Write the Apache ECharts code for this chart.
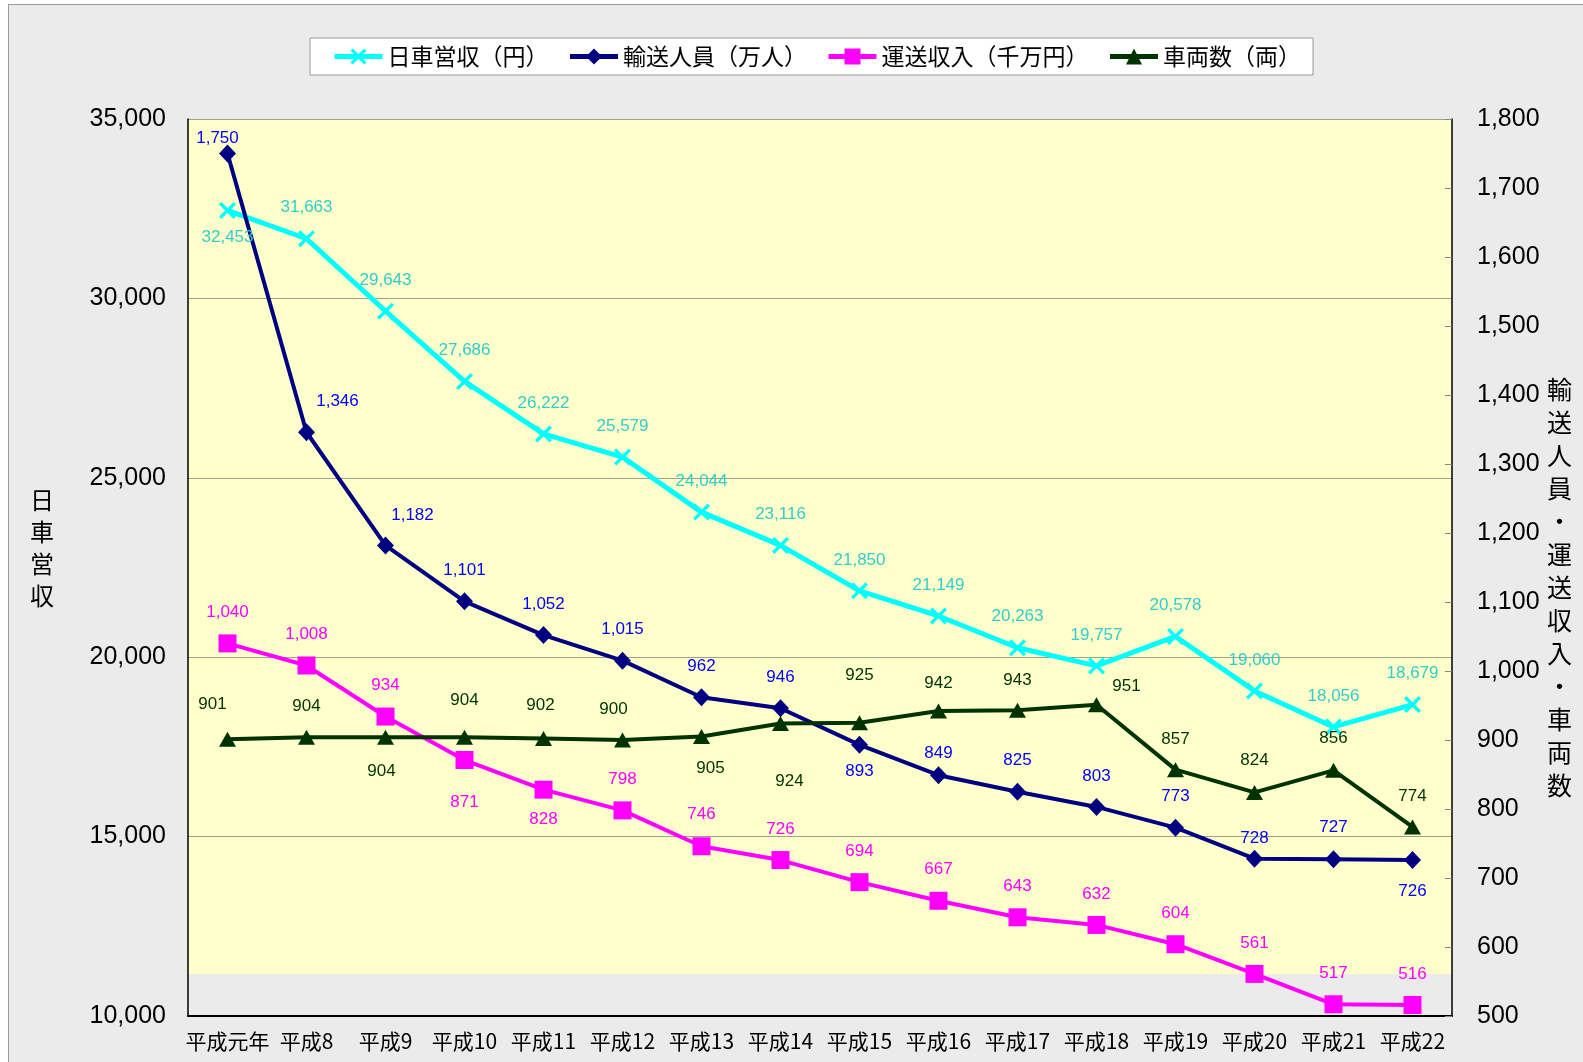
<!DOCTYPE html>
<html>
<head>
<meta charset="utf-8">
<script src="https://cdn.jsdelivr.net/npm/echarts@6/dist/echarts.min.js"></script>
<style>
  html, body { margin: 0; padding: 0; background: #ffffff; overflow: hidden; }
  #frame { position: absolute; left: 8px; top: 4px; width: 1580px; height: 1062px;
           background: #ebebeb; border: 1px solid #9a9a9a; }
  #chart { position: absolute; left: 0; top: 0; width: 1583px; height: 1062px; }
</style>
</head>
<body>
<div id="frame"></div>
<div id="chart"></div>
<script>
// ---- data ----
const categories = ['平成元年','平成8','平成9','平成10','平成11','平成12','平成13','平成14',
                    '平成15','平成16','平成17','平成18','平成19','平成20','平成21','平成22'];
const dailyRevenue   = [32453, 31663, 29643, 27686, 26222, 25579, 24044, 23116, 21850, 21149, 20263, 19757, 20578, 19060, 18056, 18679];
const passengers     = [1750, 1346, 1182, 1101, 1052, 1015, 962, 946, 893, 849, 825, 803, 773, 728, 727, 726];
const transportIncome= [1040, 1008, 934, 871, 828, 798, 746, 726, 694, 667, 643, 632, 604, 561, 517, 516];
const vehicles       = [901, 904, 904, 904, 902, 900, 905, 924, 925, 942, 943, 951, 857, 824, 856, 774];
const seriesNames = ['日車営収（円）', '輸送人員（万人）', '運送収入（千万円）', '車両数（両）'];
const leftAxis  = { min: 10000, max: 35000, interval: 5000 };
const rightAxis = { min: 500, max: 1800, interval: 100 };
const leftTitle  = '日車営収';
const rightTitle = '輸送人員・運送収入・車両数';

// ---- label placement (style only) ----
const offCyan = [[0,27],[0,-31],[0,-31],[0,-31],[0,-31],[0,-31],[0,-31],[0,-31],[0,-31],[0,-31],[0,-31],[0,-31],[0,-31],[0,-31],[0,-31],[0,-31]];
const offNavy = [[-10,-15],[31,-31],[27,-30],[0,-31],[0,-31],[0,-31],[0,-31],[0,-31],[0,26],[0,-22],[0,-31],[0,-31],[0,-31],[0,-20],[0,-32],[0,31]];
const offMag  = [[0,-31],[0,-31],[0,-31],[0,42],[0,30],[0,-31],[0,-32],[0,-31],[0,-31],[0,-31],[0,-31],[0,-31],[0,-31],[0,-31],[0,-31],[0,-31]];
const offGrn  = [[-15,-35],[0,-31],[-4,34],[0,-37],[-3,-33],[-9,-31],[9,32],[9,58],[0,-47],[0,-28],[0,-30],[30,-18],[0,-30],[0,-32],[0,-32],[0,-31]];

const numFont = '"Liberation Sans", Arial, sans-serif';
const cjkFont = '"Noto Sans CJK JP", sans-serif';
const fmt = v => Number(v).toLocaleString('en-US');

function withLabels(values, offsets, color) {
  return values.map((v, i) => ({
    value: v,
    label: { show: true, position: 'inside', offset: offsets[i], color: color,
             fontSize: 17, fontFamily: numFont, formatter: p => fmt(p.value) }
  }));
}

const crossPath = 'path://M0,1.4 L1.4,0 L5,3.6 L8.6,0 L10,1.4 L6.4,5 L10,8.6 L8.6,10 L5,6.4 L1.4,10 L0,8.6 L3.6,5 Z';

const chart = echarts.init(document.getElementById('chart'), null, { renderer: 'canvas' });
chart.setOption({
  animation: false,
  backgroundColor: 'transparent',
  legend: {
    data: seriesNames,
    left: 310, top: 38,
    padding: [7, 12, 7, 22],
    itemWidth: 48, itemHeight: 20, itemGap: 19,
    lineStyle: { width: 5 },
    backgroundColor: '#ffffff', borderColor: '#9a9a9a', borderWidth: 1,
    textStyle: { fontSize: 23, fontFamily: cjkFont, color: '#000' }
  },
  grid: { left: 188, right: 131, top: 119, bottom: 46 },
  xAxis: {
    type: 'category', data: categories, boundaryGap: true, z: 1.5,
    axisLine: { lineStyle: { color: '#000', width: 2 } },
    axisTick: { inside: true, length: 5, lineStyle: { color: '#777' } },
    axisLabel: { interval: 0, fontSize: 21, fontFamily: cjkFont, color: '#000', margin: 15 },
    splitLine: { show: false }
  },
  yAxis: [
    { type: 'value', position: 'left', min: leftAxis.min, max: leftAxis.max, interval: leftAxis.interval, z: 1.5,
      axisLine: { show: true, lineStyle: { color: '#000', width: 1.5 } },
      axisTick: { show: false },
      axisLabel: { fontSize: 25, fontFamily: numFont, color: '#000', margin: 22, formatter: fmt },
      splitLine: { show: true, lineStyle: { color: '#a0a090', width: 1 } } },
    { type: 'value', position: 'right', min: rightAxis.min, max: rightAxis.max, interval: rightAxis.interval, z: 1.5,
      axisLine: { show: true, lineStyle: { color: '#000', width: 1.5 } },
      axisTick: { show: true, inside: true, length: 7, lineStyle: { color: '#888' } },
      axisLabel: { fontSize: 25, fontFamily: numFont, color: '#000', margin: 25, formatter: fmt },
      splitLine: { show: false } }
  ],
  graphic: [
    { type: 'text', left: 30, top: 484, style: { text: leftTitle.split('').join('\n'),
      font: '24px ' + cjkFont, lineHeight: 32, fill: '#000', align: 'center' } },
    { type: 'text', left: 1547, top: 373, style: { text: rightTitle.split('').join('\n'),
      font: '25px ' + cjkFont, lineHeight: 33, fill: '#000', align: 'center' } }
  ],
  series: [
    { name: seriesNames[0], type: 'line', yAxisIndex: 0, data: withLabels(dailyRevenue, offCyan, '#33cccc'),
      symbol: crossPath, symbolSize: 17, showSymbol: true,
      lineStyle: { color: '#00ffff', width: 5 }, itemStyle: { color: '#00ffff' },
      markArea: { silent: true, itemStyle: { color: '#ffffcc' }, label: { show: false },
                  data: [[{ yAxis: 11170 }, { yAxis: 35000 }]] } },
    { name: seriesNames[1], type: 'line', yAxisIndex: 1, data: withLabels(passengers, offNavy, '#0000ff'),
      symbol: 'diamond', symbolSize: [17, 18], showSymbol: true,
      lineStyle: { color: '#000080', width: 4 }, itemStyle: { color: '#000080' } },
    { name: seriesNames[2], type: 'line', yAxisIndex: 1, data: withLabels(transportIncome, offMag, '#ff00ff'),
      symbol: 'rect', symbolSize: 18, showSymbol: true,
      lineStyle: { color: '#ff00ff', width: 4 }, itemStyle: { color: '#ff00ff' } },
    { name: seriesNames[3], type: 'line', yAxisIndex: 1, data: withLabels(vehicles, offGrn, '#003300'),
      symbol: 'triangle', symbolSize: [17, 15], showSymbol: true,
      lineStyle: { color: '#003300', width: 4 }, itemStyle: { color: '#003300' } }
  ]
});
</script>
</body>
</html>
